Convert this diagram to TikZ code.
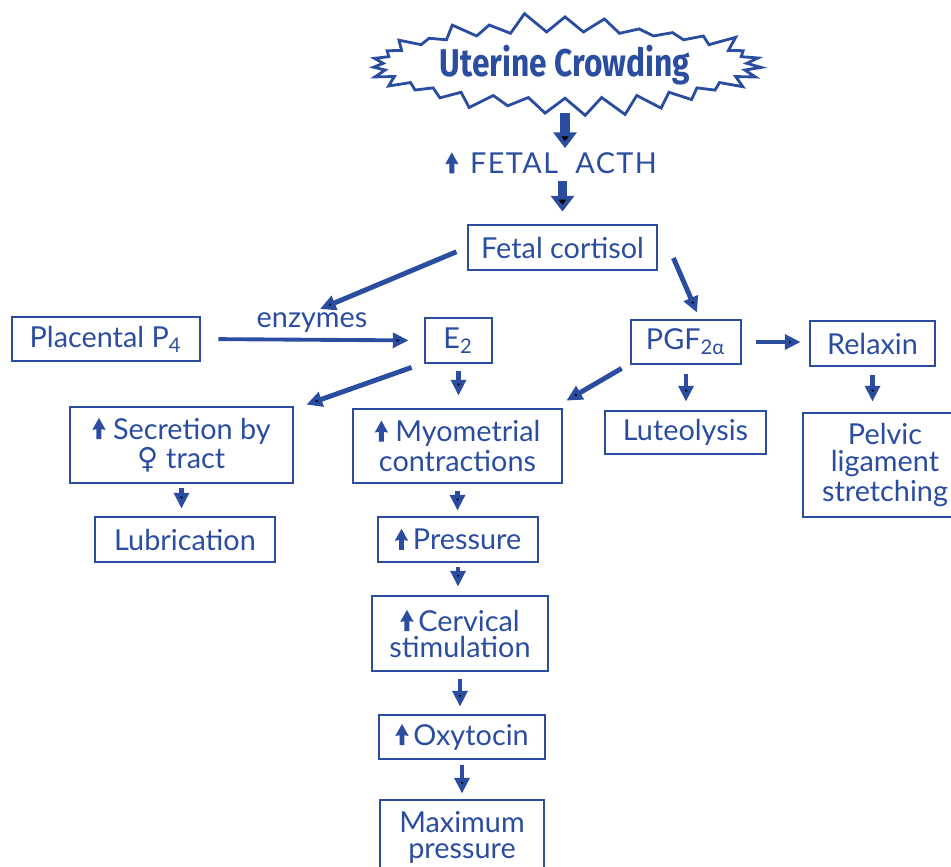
\documentclass[tikz,border=0pt]{standalone}
\usepackage{fontspec}
\setmainfont{Lato}
\newfontfamily\titlefont[FakeStretch=0.82]{Fira Sans}
\newfontfamily\symfont{DejaVu Sans}
\usepackage{tikz}
\usetikzlibrary{arrows.meta}
\usetikzlibrary{shapes.symbols}
\definecolor{ink}{HTML}{2A4DA0}
% small rising arrow in front of a label
\newcommand{\incr}{\tikz[baseline=0pt,x=1pt,y=1pt]\fill[ink] (-0.7,0) -- (-0.7,2.8) -- (-1.9,2.6) -- (0,6.0) -- (1.9,2.6) -- (0.7,2.8) -- (0.7,0) -- cycle;}

\begin{document}
\begin{tikzpicture}[x=1cm, y=-1cm,
    every node/.style={text=ink, font=\fontsize{8.2}{7.4}\selectfont},
    box/.style={draw=ink, line width=0.8pt, align=center, inner sep=0pt},
    flow/.style={draw=ink, line width=1.4pt, -{Triangle[length=4.5pt,width=4.2pt]}},
    bigflow/.style={draw=ink, line width=2.8pt, -{Triangle[length=4.5pt,width=6.5pt]}}]
    \useasboundingbox (0,0) rectangle (9.51,8.66);

    % Top of the chain
    \node[starburst, draw=ink, fill=white, line width=0.8pt, starburst points=31,
          starburst point height=0.2cm, random starburst=11,
          minimum width=3.05cm, minimum height=0.6cm, inner sep=1pt,
          font=\titlefont\bfseries\fontsize{11}{12}\selectfont] (crowd) at (5.65,0.65) {Uterine Crowding};
    \node[inner sep=1pt] (acth) at (5.51,1.63) {\incr\hspace{0.4em}{\addfontfeature{LetterSpace=5}FETAL}\hspace{0.6em}{\addfontfeature{LetterSpace=5}ACTH}};
    \node[box, minimum width=1.89cm, minimum height=0.45cm] (cortisol) at (5.625,2.475) {Fetal cortisol};

    % Hormones
    \node[box, minimum width=1.88cm, minimum height=0.44cm] (placental) at (1.06,3.39) {Placental P\textsubscript{4}};
    \node (enz) at (3.12,3.23) {enzymes};
    \coordinate (cut) at (3.20,3.09);
    \node[box, minimum width=0.67cm, minimum height=0.45cm] (e2) at (4.585,3.405) {E\textsubscript{2}};
    \node[box, minimum width=1.10cm, minimum height=0.44cm] (pgf) at (6.86,3.42) {PGF\textsubscript{2α}};
    \node[box, minimum width=1.25cm, minimum height=0.45cm] (relaxin) at (8.725,3.435) {Relaxin};

    % Effects
    \node[box, minimum width=2.23cm, minimum height=0.76cm] (secretion) at (1.815,4.45) {\incr\ Secretion by\\{\symfont ♀} tract};
    \node[box, minimum width=2.09cm, minimum height=0.74cm] (myo) at (4.575,4.46) {\incr\ Myometrial\\contractions};
    \node[box, minimum width=1.61cm, minimum height=0.43cm] (lute) at (6.855,4.325) {Luteolysis};
    \node[box, minimum width=1.64cm, minimum height=1.04cm] (pelvic) at (8.85,4.65) {Pelvic\\ligament\\stretching};
    \node[box, minimum width=1.80cm, minimum height=0.45cm] (lub) at (1.85,5.395) {Lubrication};

    % Positive feedback chain
    \node[box, minimum width=1.60cm, minimum height=0.45cm] (pressure) at (4.58,5.395) {\incr\,Pressure};
    \node[box, minimum width=1.76cm, minimum height=0.75cm] (cervical) at (4.60,6.335) {\incr\,Cervical\\stimulation};
    \node[box, minimum width=1.66cm, minimum height=0.44cm] (oxy) at (4.62,7.37) {\incr\,Oxytocin};
    \node[box, minimum width=1.64cm, minimum height=0.75cm] (maxp) at (4.62,8.375) {Maximum\\pressure};

    % Arrows
    \draw[bigflow, shorten <=0.48cm] (crowd.center) -- (crowd.center |- acth.north);
    \draw[bigflow, shorten <=0.03cm, shorten >=0.12cm] (cortisol.north |- acth.south) -- (cortisol.north);
    \draw[flow, shorten <=0.11cm] (cortisol.west) -- (cut);
    \draw[flow] ([shift={(0.15,0.105)}]cortisol.east) -- ([shift={(0.11,-0.06)}]pgf.north);
    \draw[flow, line width=1.1pt, shorten <=0.17cm, shorten >=0.15cm] (placental.east) -- (e2.west);
    \draw[flow] ([shift={(-0.12,0.03)}]e2.south west) -- ([shift={(0.12,-0.01)}]secretion.north east);
    \draw[flow, shorten <=0.07cm, shorten >=0.12cm] (e2.south) -- (e2.south |- myo.north);
    \draw[flow] ([shift={(-0.08,0.03)}]pgf.south west) -- ([shift={(0.03,-0.07)}]myo.north east);
    \draw[flow, shorten <=0.09cm, shorten >=0.08cm] (pgf.south) -- (pgf.south |- lute.north);
    \draw[flow, shorten <=0.14cm, shorten >=0.08cm] (pgf.east) -- (pgf.east -| relaxin.west);
    \draw[flow, shorten <=0.08cm, shorten >=0.10cm] (relaxin.south) -- (relaxin.south |- pelvic.north);
    \draw[flow, shorten <=0.04cm, shorten >=0.07cm] (secretion.south) -- (secretion.south |- lub.north);
    \draw[flow, shorten <=0.07cm, shorten >=0.05cm] (myo.south) -- (myo.south |- pressure.north);
    \draw[flow, shorten <=0.04cm, shorten >=0.08cm] (pressure.south) -- (pressure.south |- cervical.north);
    \draw[flow, shorten <=0.07cm, shorten >=0.07cm] (cervical.south) -- (cervical.south |- oxy.north);
    \draw[flow, shorten <=0.05cm, shorten >=0.05cm] (oxy.south) -- (oxy.south |- maxp.north);
\end{tikzpicture}
\end{document}
